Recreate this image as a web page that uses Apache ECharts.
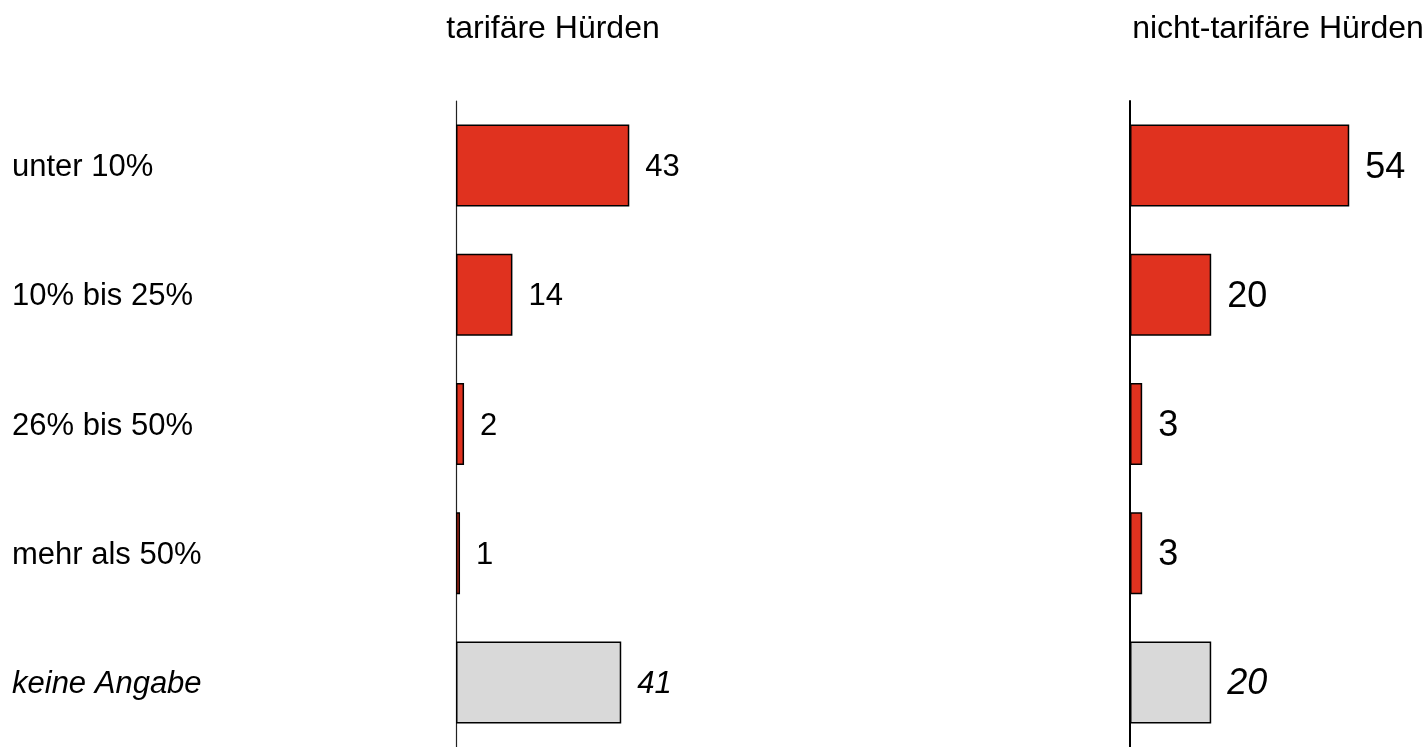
<!DOCTYPE html>
<html>
<head>
<meta charset="utf-8">
<script src="https://cdn.jsdelivr.net/npm/echarts@6/dist/echarts.min.js"></script>
<style>
  html, body { margin: 0; padding: 0; background: #fff; }
  #chart { width: 1424px; height: 747px; }
</style>
</head>
<body>
<div id="chart"></div>
<script>
// categories (top to bottom)
const categories = ['unter 10%', '10% bis 25%', '26% bis 50%', 'mehr als 50%', 'keine Angabe'];
// percentages per panel
const tarifValues = [43, 14, 2, 1, 41];
const nichtTarifValues = [54, 20, 3, 3, 20];
const panelTitles = ['tarifäre Hürden', 'nicht-tarifäre Hürden'];

const FONT = "'Liberation Sans', Arial, Helvetica, sans-serif";
const RED = '#E0321F';
const GREY = '#D9D9D9';

function barData(values, labelSize) {
  return values.map((v, i) => ({
    value: v,
    itemStyle: { color: i === 4 ? GREY : RED },
    label: { fontStyle: i === 4 ? 'italic' : 'normal', fontSize: labelSize }
  }));
}

const chart = echarts.init(document.getElementById('chart'));
chart.setOption({
  animation: false,
  textStyle: { fontFamily: FONT },
  title: [
    { text: panelTitles[0], left: 548, top: 8, textAlign: 'center',
      textStyle: { fontFamily: FONT, fontSize: 32, fontWeight: 'normal', color: '#000' } },
    { text: panelTitles[1], left: 1273, top: 8, textAlign: 'center',
      textStyle: { fontFamily: FONT, fontSize: 32, fontWeight: 'normal', color: '#000' } }
  ],
  grid: [
    { left: 456, top: 101, width: 241.8, height: 650 },
    { left: 1130, top: 101, width: 243.6, height: 650 }
  ],
  xAxis: [
    { gridIndex: 0, type: 'value', min: 0, max: 60, show: false },
    { gridIndex: 1, type: 'value', min: 0, max: 60, show: false }
  ],
  yAxis: [
    {
      gridIndex: 0, type: 'category', data: categories, inverse: true,
      axisTick: { show: false },
      axisLine: { lineStyle: { color: '#222', width: 1.2 } },
      axisLabel: {
        align: 'left', margin: 444, fontSize: 31, color: '#000', fontFamily: FONT,
        padding: [4, 0, 0, 0],
        formatter: (v, i) => i === 4 ? '{it|' + v + '}' : v,
        rich: { it: { fontStyle: 'italic', fontSize: 31, color: '#000', fontFamily: FONT } }
      }
    },
    {
      gridIndex: 1, type: 'category', data: categories, inverse: true,
      axisTick: { show: false },
      axisLine: { lineStyle: { color: '#000', width: 2 } },
      axisLabel: { show: false }
    }
  ],
  series: [
    {
      type: 'bar', xAxisIndex: 0, yAxisIndex: 0,
      data: barData(tarifValues, 31),
      barWidth: 82,
      itemStyle: { borderColor: '#000', borderWidth: 1.5 },
      label: { show: true, position: 'right', distance: 16, offset: [0, 2], color: '#000', fontFamily: FONT }
    },
    {
      type: 'bar', xAxisIndex: 1, yAxisIndex: 1,
      data: barData(nichtTarifValues, 36),
      barWidth: 82,
      itemStyle: { borderColor: '#000', borderWidth: 1.5 },
      label: { show: true, position: 'right', distance: 16, offset: [0, 2], color: '#000', fontFamily: FONT }
    }
  ]
});
</script>
</body>
</html>
